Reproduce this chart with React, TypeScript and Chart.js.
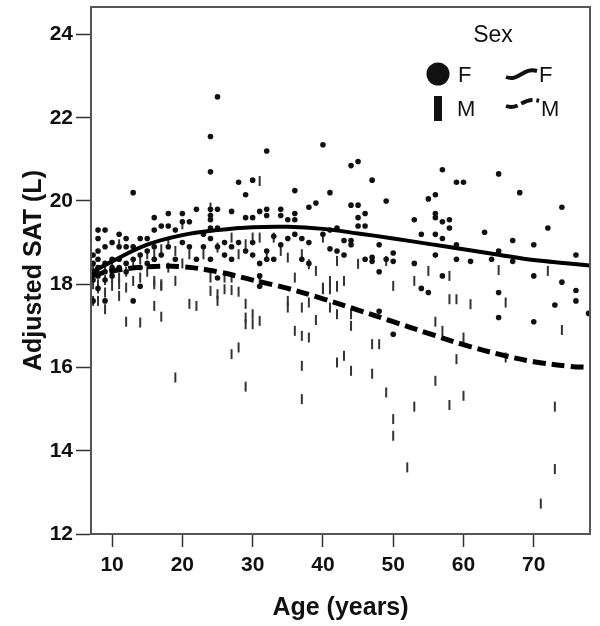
import React, { useEffect, useRef } from "react";
import { Chart, registerables } from "chart.js";
Chart.register(...registerables);

// Female observations (age, adjusted SAT)
const fAge = [
  7.3, 7.3, 7.3, 7.3, 7.3,
  8, 8, 8, 8, 8, 8, 8,
  9, 9, 9, 9, 9, 9,
  10, 10, 10, 10,
  11, 11, 11, 11,
  12, 12, 12, 12,
  13, 13, 13, 13,
  14, 14, 14, 14,
  15, 15, 15,
  16, 16, 16, 16,
  17, 17,
  18, 18, 18,
  19, 19,
  20, 20, 20,
  21, 21,
  22, 22,
  23, 23,
  24, 24, 24, 24, 24, 24, 24, 24,
  25, 25, 25, 25, 25,
  26, 26,
  27, 27, 27,
  28, 28,
  29, 29, 29,
  30, 30, 30, 30,
  31, 31, 31, 31,
  32, 32, 32, 32, 32,
  33, 33,
  34, 34, 34,
  35, 35,
  36, 36, 36, 36,
  37, 37,
  38, 38, 38,
  39,
  40, 40,
  41, 41, 41,
  42, 42,
  43, 43,
  44, 44, 44, 44,
  45, 45, 45, 45,
  46, 46, 46,
  47, 47, 47,
  48, 48, 48,
  49, 49,
  50, 50, 50,
  53, 53,
  54, 54,
  55, 55,
  56, 56, 56, 56, 56,
  57, 57, 57, 57,
  58, 58,
  59, 59, 59,
  60,
  61,
  63,
  64,
  65, 65, 65, 65,
  67, 67,
  68,
  70, 70, 70,
  72,
  73,
  74, 74,
  76, 76, 76,
  77.8,
];
const fSat = [
  18.3, 18.5, 18.1, 17.6, 18.7,
  19.1, 18.8, 18.4, 18.2, 17.9, 18.6, 19.3,
  19.3, 18.5, 18.3, 17.6, 18.9, 18.1,
  18.4, 18.6, 18.2, 19.0,
  19.2, 18.6, 18.4, 18.9,
  19.1, 18.9, 18.5, 18.3,
  20.2, 18.9, 17.6, 18.6,
  19.1, 18.7, 17.95, 18.4,
  19.1, 18.8, 18.5,
  19.6, 19.3, 18.6, 18.9,
  19.4, 18.7,
  19.7, 19.4, 18.9,
  19.3, 18.6,
  19.7, 19.5, 19.0,
  19.5, 18.9,
  19.8, 18.6,
  18.9, 19.2,
  21.55, 20.7, 19.8, 19.65, 19.55, 19.35, 19.1, 18.6,
  22.5, 19.8, 19.35, 18.9, 18.15,
  19.0, 18.7,
  19.75, 18.9, 18.6,
  20.45, 19.0,
  20.15, 19.6, 18.8,
  20.5, 19.6, 19.0, 18.7,
  19.75, 18.5, 17.95, 18.2,
  21.2, 19.8, 19.65, 18.8, 18.6,
  19.15, 18.6,
  19.8, 19.65, 18.95,
  19.55, 19.1,
  20.25, 19.7, 19.55, 19.2,
  19.1, 18.6,
  19.85, 19.0, 18.5,
  19.95,
  21.35, 19.2,
  20.2, 19.3, 18.85,
  19.35, 18.8,
  19.05, 18.7,
  20.85, 19.9, 19.05, 18.95,
  20.95, 19.9, 19.6, 19.4,
  19.7, 19.4, 18.6,
  20.5, 18.65, 18.55,
  18.95, 18.3, 17.35,
  20.0, 18.6,
  18.75, 18.55, 16.8,
  19.55, 18.5,
  19.2, 17.9,
  20.05, 17.8,
  20.15, 19.7, 19.6, 19.2, 18.7,
  20.75, 19.5, 19.1, 18.2,
  19.55, 19.35,
  20.45, 18.95, 18.6,
  20.45,
  18.55,
  19.25,
  18.6,
  20.65, 18.8, 17.8, 17.2,
  19.05, 18.55,
  20.2,
  18.95, 18.2, 17.1,
  19.35,
  17.5,
  19.85, 18.05,
  18.7, 17.85, 17.6,
  17.3,
];

// Male observations (age, adjusted SAT)
const mAge = [
  7.3, 7.3, 7.3, 7.3,
  8, 8, 8, 8,
  9, 9, 9, 9,
  10, 10, 10,
  11, 11, 11, 11,
  12, 12, 12,
  13, 13,
  14, 14, 14,
  15, 15,
  16, 16, 16, 16,
  17, 17, 17, 17,
  18, 18,
  19, 19, 19,
  20, 20,
  21, 21,
  22,
  23,
  24, 24, 24,
  25, 25, 25,
  26, 26,
  27, 27, 27, 27,
  28, 28, 28,
  29, 29, 29, 29, 29,
  30, 30, 30,
  31, 31, 31, 31,
  32,
  33,
  34,
  35, 35, 35,
  36, 36,
  37, 37, 37, 37, 37,
  38, 38, 38,
  39, 39,
  40, 40, 40,
  41, 41, 41,
  42, 42, 42, 42, 42,
  43, 43,
  44, 44, 44,
  45,
  47, 47,
  48,
  49, 49,
  50, 50, 50,
  52,
  53, 53,
  55,
  56, 56,
  57,
  58, 58, 58,
  59, 59,
  60, 60,
  61,
  65,
  66, 66,
  71,
  72,
  73, 73,
  74,
];
const mSat = [
  18.0, 17.6, 18.2, 18.4,
  18.0, 17.6, 18.3, 17.9,
  17.4, 18.1, 18.4, 17.8,
  17.96, 18.16, 18.4,
  18.96, 18.16, 18.0, 17.72,
  17.92, 18.3, 17.1,
  18.08, 18.5,
  18.16, 17.08, 18.6,
  18.72, 18.3,
  18.72, 18.08, 18.0, 17.48,
  18.84, 17.96, 18.0, 17.22,
  18.96, 18.4,
  18.8, 18.08, 15.76,
  19.44, 18.5,
  18.72, 17.53,
  17.48,
  18.72,
  19.84, 18.16, 17.84,
  18.88, 17.76, 17.6,
  18.16, 17.88,
  19.12, 18.16, 17.86, 16.32,
  18.72, 17.82, 16.48,
  18.96, 17.53, 17.2, 17.04, 15.54,
  19.12, 17.28, 17.04,
  20.48, 19.12, 18.08, 17.12,
  18.72,
  19.12,
  18.8,
  18.64, 17.6, 17.44,
  18.16, 16.88,
  18.72, 17.44, 16.76, 16.04, 15.24,
  18.48, 17.56, 16.72,
  18.32, 17.14,
  19.12, 17.92, 17.88,
  18.08, 17.88, 17.44,
  18.56, 17.96, 17.28, 16.12, 17.94,
  18.08, 16.28,
  17.28, 17.0, 15.92,
  18.49,
  16.56, 15.85,
  16.56,
  18.56, 15.4,
  17.96, 14.76, 14.36,
  13.6,
  18.08, 15.06,
  18.32,
  17.1, 15.68,
  16.88,
  18.2, 17.64, 15.1,
  17.64, 16.2,
  16.72, 15.32,
  17.52,
  18.34,
  17.56, 16.24,
  12.73,
  18.32,
  15.06, 13.56,
  16.9,
];

// Fitted curves
const curveAge = [7, 10, 15, 20, 25, 30, 35, 40, 45, 50, 55, 60, 65, 70, 75, 78];
const fCurve = [18.28, 18.55, 18.95, 19.18, 19.3, 19.37, 19.38, 19.33, 19.22, 19.1, 18.97, 18.84, 18.71, 18.58, 18.5, 18.45];
const mCurve = [18.2, 18.32, 18.42, 18.42, 18.3, 18.1, 17.9, 17.65, 17.38, 17.1, 16.82, 16.55, 16.32, 16.14, 16.03, 16.0];

const xTicks = [10, 20, 30, 40, 50, 60, 70];
const yTicks = [12, 14, 16, 18, 20, 22, 24];

const FONT = "'Liberation Sans', Arial, Helvetica, sans-serif";

const framePlugin = {
  id: "frame",
  afterDatasetsDraw(chart: any) {
    const { ctx, chartArea: a } = chart;
    ctx.save();
    ctx.strokeStyle = "#555";
    ctx.lineWidth = 2;
    ctx.strokeRect(a.left, a.top, a.right - a.left, a.bottom - a.top);
    ctx.restore();
  },
};

const sexLegendPlugin = {
  id: "sexLegend",
  afterDraw(chart: any) {
    const { ctx } = chart;
    ctx.save();
    ctx.fillStyle = "#111";
    ctx.strokeStyle = "#111";
    ctx.textBaseline = "middle";
    ctx.textAlign = "center";
    ctx.font = `23px ${FONT}`;
    ctx.fillText("Sex", 493, 36);
    ctx.textAlign = "left";
    ctx.font = `22px ${FONT}`;
    // F marker
    ctx.beginPath();
    ctx.arc(438, 74, 11.5, 0, Math.PI * 2);
    ctx.fill();
    ctx.fillText("F", 458, 76);
    // M marker
    ctx.fillRect(434, 96, 8, 25);
    ctx.fillText("M", 457, 110);
    // F curve
    ctx.lineWidth = 4;
    ctx.lineCap = "butt";
    ctx.beginPath();
    ctx.moveTo(506, 77);
    ctx.bezierCurveTo(519, 82, 523, 67, 537, 71);
    ctx.stroke();
    ctx.fillText("F", 539, 76);
    // M curve
    ctx.setLineDash([12, 4]);
    ctx.beginPath();
    ctx.moveTo(506, 106);
    ctx.bezierCurveTo(519, 111, 523, 96, 539, 101);
    ctx.stroke();
    ctx.setLineDash([]);
    ctx.fillText("M", 541, 110);
    ctx.restore();
  },
};

export default function App() {
  const ref = useRef<HTMLCanvasElement>(null);
  useEffect(() => {
    const fPts = fAge.map((a, i) => ({ x: a, y: fSat[i] }));
    const mPts = mAge.map((a, i) => ({ x: a, y: mSat[i] }));
    const fLine = curveAge.map((a, i) => ({ x: a, y: fCurve[i] }));
    const mLine = curveAge.map((a, i) => ({ x: a, y: mCurve[i] }));
    const chart = new Chart(ref.current!, {
      type: "scatter",
      data: {
        datasets: [
          {
            label: "F fit",
            data: fLine,
            showLine: true,
            borderColor: "#000",
            borderWidth: 4,
            pointRadius: 0,
            tension: 0.4,
            order: 0,
          },
          {
            label: "M fit",
            data: mLine,
            showLine: true,
            borderColor: "#000",
            borderWidth: 5,
            borderDash: [13, 6],
            pointRadius: 0,
            tension: 0.4,
            order: 0,
          },
          {
            label: "F",
            data: fPts,
            pointStyle: "circle",
            pointRadius: 2.8,
            backgroundColor: "#111",
            borderWidth: 0,
            order: 1,
          },
          {
            label: "M",
            data: mPts,
            pointStyle: "line",
            rotation: 90,
            pointRadius: 5,
            borderColor: "#333",
            borderWidth: 2,
            order: 2,
          },
        ] as any,
      },
      options: {
        responsive: false,
        animation: false,
        events: [],
        layout: { padding: { top: 6, right: 10, left: 0, bottom: 0 } },
        plugins: { legend: { display: false }, tooltip: { enabled: false } },
        scales: {
          x: {
            type: "linear",
            min: 7,
            max: 78,
            afterBuildTicks: (s: any) => {
              s.ticks = xTicks.map((v) => ({ value: v }));
            },
            afterFit: (s: any) => {
              s.height = 92;
              s.paddingLeft = 0;
              s.paddingRight = 0;
            },
            grid: {
              display: true,
              drawOnChartArea: false,
              drawTicks: true,
              tickLength: 13,
              tickColor: "#333",
              tickWidth: 1.5,
            },
            border: { display: true, color: "#555", width: 2 },
            ticks: {
              color: "#111",
              padding: 6,
              maxRotation: 0,
              font: { family: FONT, size: 21, weight: "bold" },
            },
            title: {
              display: true,
              text: "Age (years)",
              color: "#111",
              padding: { top: 0, bottom: 3 },
              font: { family: FONT, size: 25, weight: "bold" },
            },
          },
          y: {
            type: "linear",
            min: 12,
            max: 24.66,
            afterBuildTicks: (s: any) => {
              s.ticks = yTicks.map((v) => ({ value: v }));
            },
            afterFit: (s: any) => {
              s.width = 91;
              s.paddingTop = 0;
              s.paddingBottom = 0;
            },
            grid: {
              display: true,
              drawOnChartArea: false,
              drawTicks: true,
              tickLength: 15,
              tickColor: "#333",
              tickWidth: 1.5,
            },
            border: { display: true, color: "#555", width: 2 },
            ticks: {
              color: "#111",
              padding: 3,
              font: { family: FONT, size: 21, weight: "bold" },
            },
            title: {
              display: true,
              text: "Adjusted SAT (L)",
              color: "#111",
              padding: { top: 19, bottom: 0 },
              font: { family: FONT, size: 25, weight: "bold" },
            },
          },
        },
      },
      plugins: [framePlugin, sexLegendPlugin],
    } as any);
    return () => chart.destroy();
  }, []);
  return (
    <div style={{ position: "absolute", left: 0, top: 0, width: 600, height: 626, background: "#fff" }}>
      <canvas ref={ref} width={600} height={626} style={{ display: "block", width: 600, height: 626 }} />
    </div>
  );
}
